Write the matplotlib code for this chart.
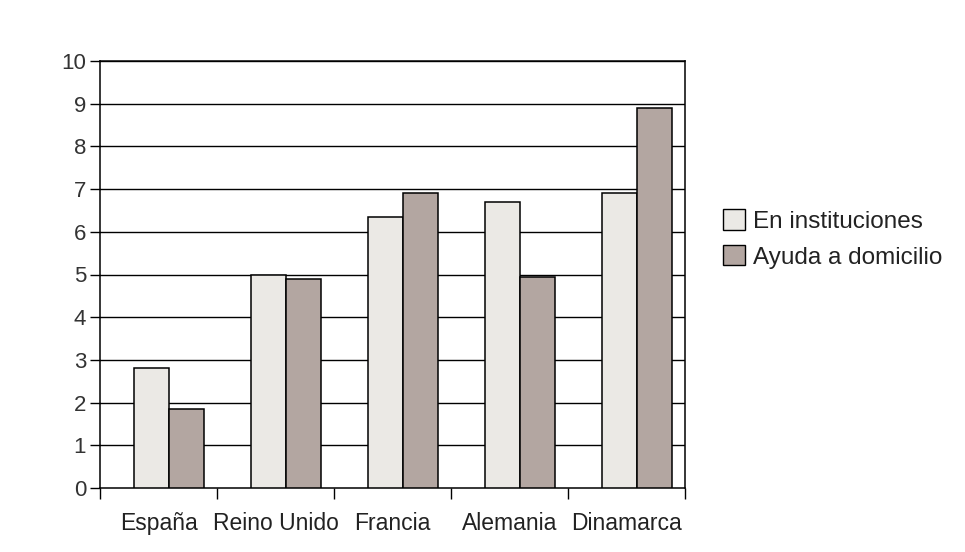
import numpy as np
import matplotlib
matplotlib.use('Agg')
import matplotlib.pyplot as plt
from matplotlib.patches import Patch

plt.rcParams['font.family'] = ['Liberation Sans', 'DejaVu Sans']

countries = ['España', 'Reino Unido', 'Francia', 'Alemania', 'Dinamarca']
instituciones = [2.8, 5.0, 6.35, 6.7, 6.9]
domicilio = [1.85, 4.9, 6.9, 4.93, 8.9]
series_names = ['En instituciones', 'Ayuda a domicilio']

fig = plt.figure(figsize=(9.65, 5.52), dpi=100)
ax = fig.add_axes([100 / 965, 1 - 488 / 552, 585 / 965, 427 / 552])

x = np.arange(len(countries))
w = 0.3
shift = 0.09
ax.bar(x + shift - w / 2, instituciones, w, color='#ebe9e5', edgecolor='black', lw=1.1, zorder=3)
ax.bar(x + shift + w / 2, domicilio, w, color='#b3a6a1', edgecolor='black', lw=1.1, zorder=3)

ax.set_ylim(0, 10)
ax.set_xlim(-0.5, len(countries) - 0.5)
ax.set_yticks(range(0, 11))
ax.tick_params(axis='y', labelsize=16, length=7, width=1, direction='out', pad=3,
               labelcolor='#333333')
for yv in range(1, 11):
    ax.axhline(yv, color='black', lw=1, zorder=1)

# ticks on the category boundaries, labels at the centres
ax.set_xticks(np.arange(len(countries) + 1) - 0.5)
ax.set_xticklabels([])
ax.set_xticks(x, minor=True)
ax.set_xticklabels(countries, minor=True, fontsize=16.5, color='#222222')
ax.tick_params(axis='x', which='major', length=8, width=1, direction='out')
ax.tick_params(axis='x', which='minor', length=0, pad=17)

for s in ax.spines.values():
    s.set_linewidth(1.1)

handles = [Patch(facecolor='#ebe9e5', edgecolor='black', label=series_names[0]),
           Patch(facecolor='#b3a6a1', edgecolor='black', label=series_names[1])]
fig.legend(handles=handles, loc='center left', bbox_to_anchor=(701 / 965, 1 - 239 / 552),
           frameon=False, fontsize=17.5, handlelength=0.9, handleheight=0.9,
           handletextpad=0.35, labelspacing=0.5, labelcolor='#222222')

fig.savefig('out.png', dpi=100)
